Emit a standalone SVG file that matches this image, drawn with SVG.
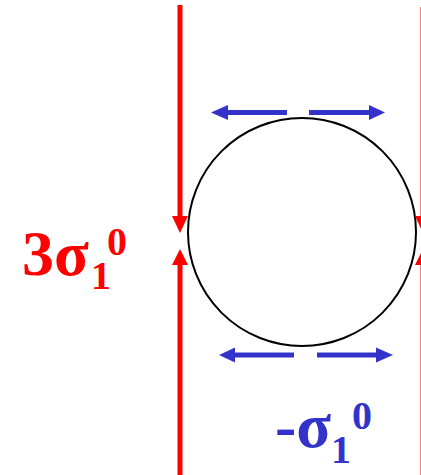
<svg xmlns="http://www.w3.org/2000/svg" width="421" height="475" viewBox="0 0 421 475">
<style>
.red{stroke:#FF0000;stroke-width:5;fill:none}
.redhead{fill:#FF0000}
.blue{stroke:#3333CC;stroke-width:5;fill:none}
.bluehead{fill:#3333CC}
.lbl{font-family:"Liberation Serif","Times New Roman",serif;font-weight:bold}
</style>
<rect width="421" height="475" fill="#FFFFFF"/>
<g id="circle">
<circle cx="302" cy="232" r="114" fill="none" stroke="#000000" stroke-width="2"/>
</g>
<g id="connectors">
<line class="red" x1="180" y1="5" x2="180" y2="220"/>
<polygon class="redhead" points="172,216 188,216 180,233"/>
<line class="red" x1="180" y1="262" x2="180" y2="475"/>
<polygon class="redhead" points="172,265 188,265 180,249"/>
<line class="red" x1="423" y1="7" x2="423" y2="220"/>
<polygon class="redhead" points="415,216 431,216 423,233"/>
<line class="red" x1="423" y1="262" x2="423" y2="475"/>
<polygon class="redhead" points="415,265 431,265 423,249"/>
<line class="blue" x1="287" y1="112.5" x2="226" y2="112.5"/>
<polygon class="bluehead" points="211,112.5 228,105 228,120"/>
<line class="blue" x1="309" y1="112.5" x2="371" y2="112.5"/>
<polygon class="bluehead" points="385,112.5 369,105 369,120"/>
<line class="blue" x1="294" y1="355" x2="233" y2="355"/>
<polygon class="bluehead" points="219,355 235,347.5 235,362.5"/>
<line class="blue" x1="317" y1="355" x2="378" y2="355"/>
<polygon class="bluehead" points="393,355 376,347.5 376,362.5"/>
</g>
<g id="label-left">
<text class="lbl" fill="#FF0000" font-size="64"><tspan x="22" y="275">3σ</tspan><tspan x="91" y="289" font-size="40">1</tspan><tspan x="107" y="255" font-size="40">0</tspan></text>
</g>
<g id="label-bottom">
<text class="lbl" fill="#3333CC" font-size="64"><tspan x="275" y="447">-σ</tspan><tspan x="331" y="463" font-size="40">1</tspan><tspan x="352" y="429" font-size="40">0</tspan></text>
</g>
</svg>
